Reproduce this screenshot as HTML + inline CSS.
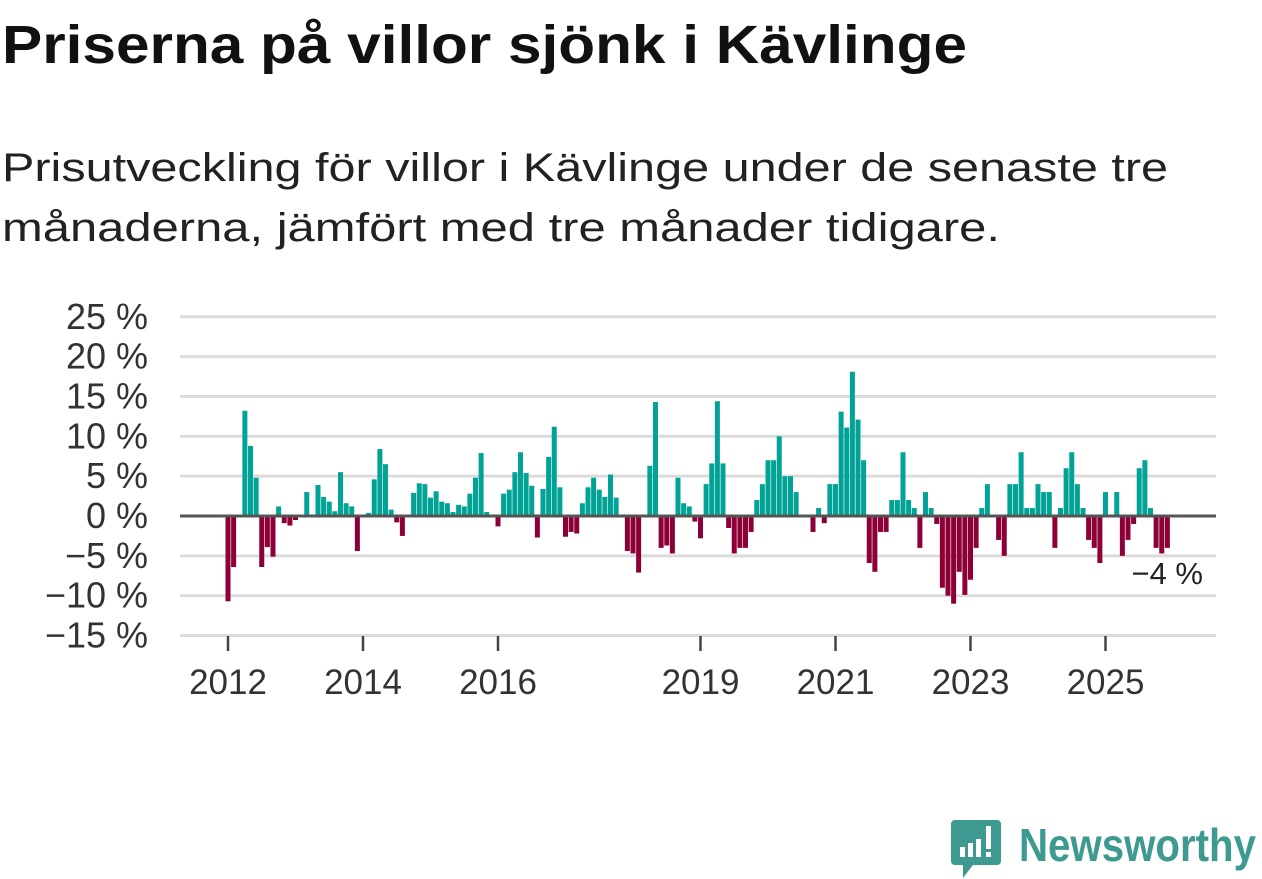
<!DOCTYPE html>
<html><head><meta charset="utf-8">
<style>
html,body{margin:0;padding:0;background:#fff;}
svg{display:block;font-family:"Liberation Sans","DejaVu Sans",sans-serif;}
</style></head>
<body>
<svg id="chart" width="1262" height="879" viewBox="0 0 1262 879" xmlns="http://www.w3.org/2000/svg">
  <text x="2" y="63" font-size="54" font-weight="bold" fill="#111" textLength="965" lengthAdjust="spacingAndGlyphs">Priserna på villor sjönk i Kävlinge</text>
  <text x="2" y="181" font-size="40" fill="#222" textLength="1166" lengthAdjust="spacingAndGlyphs">Prisutveckling för villor i Kävlinge under de senaste tre</text>
  <text x="2" y="241" font-size="40" fill="#222" textLength="998" lengthAdjust="spacingAndGlyphs">månaderna, jämfört med tre månader tidigare.</text>
  <g id="grid"></g>
  <g id="bars"></g>
  <g id="axes"></g>
  <g>
    <path d="M955 820 h42 a4 4 0 0 1 4 4 v37 a4 4 0 0 1 -4 4 h-24 l-10 13 v-13 h-8 a4 4 0 0 1 -4 -4 v-37 a4 4 0 0 1 4 -4z" fill="#3e9a90"/>
    <rect x="960" y="847" width="5" height="10" fill="#fff"/>
    <rect x="968" y="843" width="5" height="14" fill="#fff"/>
    <rect x="976" y="839" width="5" height="18" fill="#fff"/>
    <rect x="986" y="826" width="5" height="23" fill="#fff"/>
    <rect x="986" y="852" width="5" height="5" fill="#fff"/>
    <text x="1019" y="861" font-size="46" font-weight="bold" fill="#3e9a90" textLength="237" lengthAdjust="spacingAndGlyphs">Newsworthy</text>
  </g>
</svg>
<script>
const yTicks = [25, 20, 15, 10, 5, 0, -5, -10, -15];
const yTickLabels = ["25 %", "20 %", "15 %", "10 %", "5 %", "0 %", "−5 %", "−10 %", "−15 %"];
const xTickYears = [2012, 2014, 2016, 2019, 2021, 2023, 2025];
const xTickLabels = ["2012", "2014", "2016", "2019", "2021", "2023", "2025"];
// month index from Jan 2012, value in %
const monthIdx = [0,1,3,4,5,6,7,8,9,10,11,12,14,16,17,18,19,20,21,22,23,25,26,27,28,29,30,31,33,34,35,36,37,38,39,40,41,42,43,44,45,46,48,49,50,51,52,53,54,55,56,57,58,59,60,61,62,63,64,65,66,67,68,69,71,72,73,75,76,77,78,79,80,81,82,83,84,85,86,87,88,89,90,91,92,93,94,95,96,97,98,99,100,101,104,105,106,107,108,109,110,111,112,113,114,115,116,117,118,119,120,121,122,123,124,125,126,127,128,129,130,131,132,133,134,135,137,138,139,140,141,142,143,144,145,146,147,148,149,150,151,152,153,154,155,156,158,159,160,161,162,163,164,165,166,167];
const values = [-10.7,-6.4,13.2,8.8,4.8,-6.4,-3.9,-5.1,1.2,-0.9,-1.2,-0.5,3.0,3.9,2.4,1.8,0.6,5.5,1.6,1.2,-4.4,0.4,4.6,8.4,6.5,0.8,-0.8,-2.5,2.9,4.1,4.0,2.3,3.1,1.8,1.6,0.5,1.4,1.2,2.8,4.8,7.9,0.5,-1.3,2.8,3.3,5.5,8.0,5.4,3.8,-2.7,3.4,7.4,11.2,3.6,-2.6,-2.0,-2.2,1.6,3.6,4.8,3.3,2.4,5.2,2.3,-4.4,-4.7,-7.1,6.3,14.3,-4.0,-3.7,-4.7,4.8,1.6,1.2,-0.7,-2.8,4.0,6.6,14.4,6.6,-1.5,-4.7,-4.0,-4.0,-2.0,2.0,4.0,7.0,7.0,10.0,5.0,5.0,3.0,-2.0,1.0,-0.9,4.0,4.0,13.1,11.1,18.1,12.1,7.0,-5.9,-7.0,-2.0,-2.0,2.0,2.0,8.0,2.0,1.0,-4.0,3.0,1.0,-1.0,-9.0,-10.0,-11.0,-7.0,-9.9,-8.0,-4.0,1.0,4.0,-3.0,-5.0,4.0,4.0,8.0,1.0,1.0,4.0,3.0,3.0,-4.0,1.0,6.0,8.0,4.0,1.0,-3.0,-4.0,-5.9,3.0,3.0,-5.0,-3.0,-1.0,6.0,7.0,1.0,-4.0,-4.7,-4.0];
const lastLabel = "−4 %";

const NS = "http://www.w3.org/2000/svg";
const X0 = 180, X1 = 1216;
function yScale(v){ return 516 - v * 7.97; }
function xMonth(m){ return 228 + m * 5.625; }
function xYear(y){ return xMonth((y - 2012) * 12); }
function mk(tag, attrs, parent){
  const e = document.createElementNS(NS, tag);
  for (const k in attrs) e.setAttribute(k, attrs[k]);
  parent.appendChild(e); return e;
}
const grid = document.getElementById('grid');
const bars = document.getElementById('bars');
const axes = document.getElementById('axes');

yTicks.forEach((t, i) => {
  if (t !== 0) {
    const l = mk('line', {x1: X0, x2: X1, y1: yScale(t), y2: yScale(t), stroke: '#dcdcdc', 'stroke-width': 3}, grid);
    
    
  }
  const tx = mk('text', {x: 148, y: yScale(t) + 12, 'text-anchor': 'end', 'font-size': 36, fill: '#333'}, axes);
  tx.textContent = yTickLabels[i];
  
  
});

values.forEach((v, i) => {
  const x = xMonth(monthIdx[i]);
  const y0 = yScale(0), y1 = yScale(v);
  const r = mk('rect', {x: x - 2.5, y: Math.min(y0, y1), width: 5, height: Math.abs(y1 - y0), fill: v >= 0 ? '#00a396' : '#8c0037'}, bars);
  
  
});

const zl = mk('line', {x1: X0, x2: X1, y1: yScale(0), y2: yScale(0), stroke: '#555', 'stroke-width': 3}, axes);



xTickYears.forEach((yr, i) => {
  const x = xYear(yr);
  const tk = mk('line', {x1: x, x2: x, y1: 636, y2: 651, stroke: '#444', 'stroke-width': 2.5}, axes);
  
  
  const tx = mk('text', {x: x, y: 694, 'text-anchor': 'middle', 'font-size': 35, fill: '#333'}, axes);
  tx.textContent = xTickLabels[i];
  
  
});

const lastV = values[values.length - 1];
const ll = mk('text', {x: 1203, y: yScale(lastV) + 36, 'text-anchor': 'end', 'font-size': 31, fill: '#222', stroke: '#fff', 'stroke-width': 6, 'paint-order': 'stroke'}, axes);
ll.textContent = lastLabel;


</script>
</body></html>
